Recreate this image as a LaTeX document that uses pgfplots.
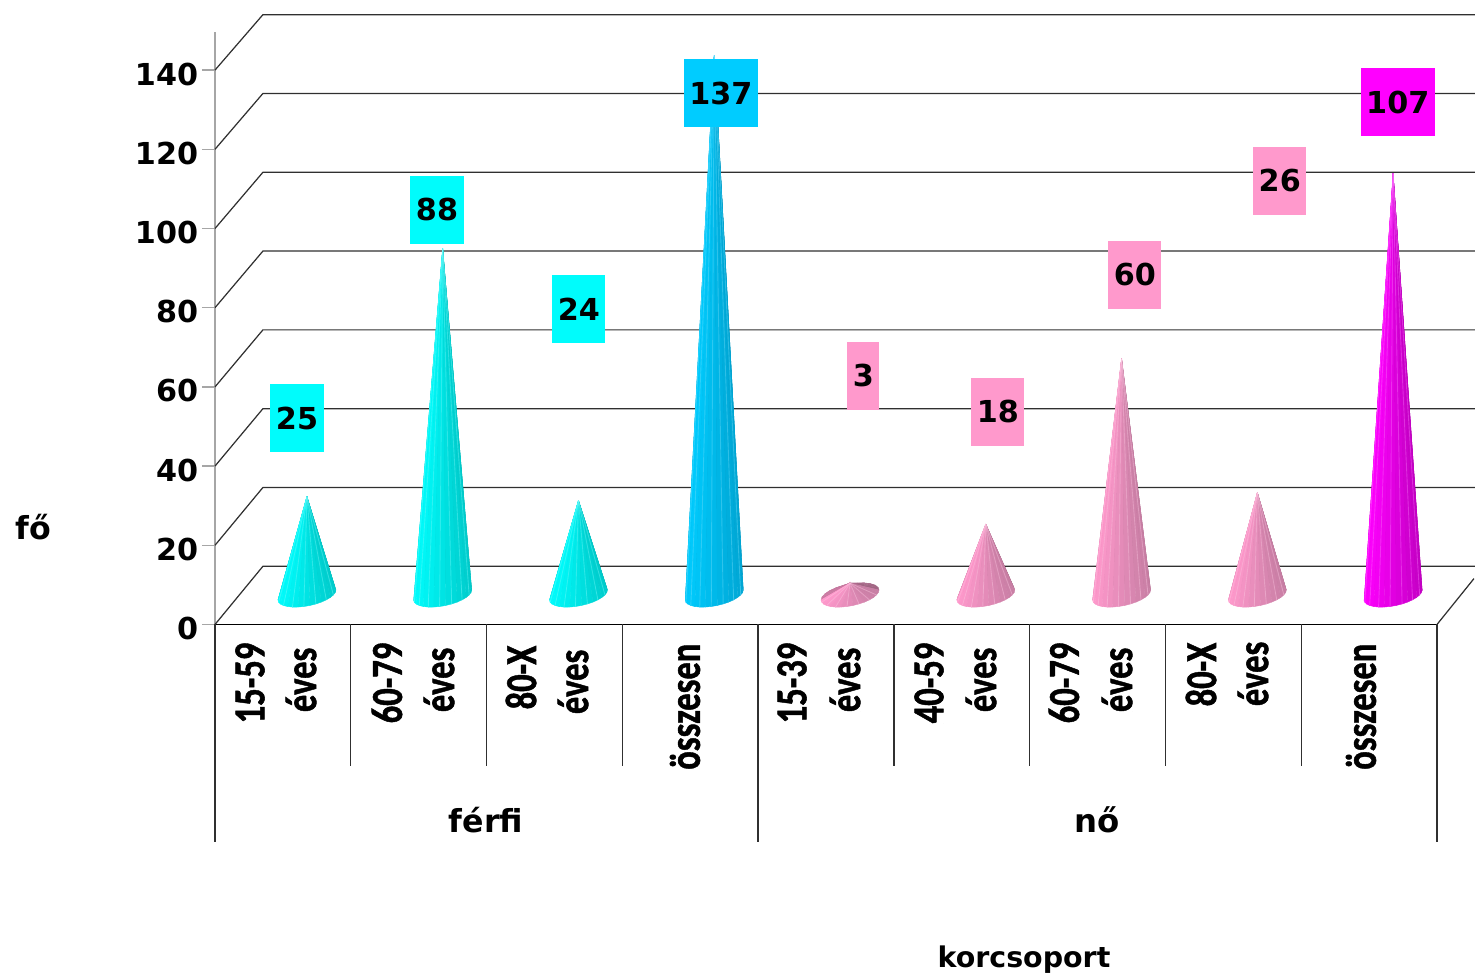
\documentclass[border=0pt]{standalone}
\usepackage{fontspec}
\usepackage{graphicx}
\usepackage{pgfplots}
\pgfplotsset{compat=1.18}
\setmainfont{DejaVu Sans}
\newfontfamily\catfont{Carlito}[BoldFeatures={FakeBold=1.2}]

\definecolor{cyanL}{HTML}{00FCFC}
\definecolor{cyanD}{HTML}{00CCCC}
\definecolor{blueL}{HTML}{00CCFF}
\definecolor{blueD}{HTML}{00A6D4}
\definecolor{pinkL}{HTML}{FF99CC}
\definecolor{pinkD}{HTML}{C87EA4}
\definecolor{magL}{HTML}{FF00FF}
\definecolor{magD}{HTML}{C400C4}
\definecolor{gridc}{HTML}{303030}

\newcommand{\lblfont}{\fontsize{8.6}{10}\selectfont\bfseries}

% one slice of the cone fan: #1 start angle, #2 end angle, #3 fill colour
\newcommand{\slice}[3]{%
  \pgfmathsetmacro\xa{\apx+0.2135*cos(#1)}%
  \pgfmathsetmacro\ya{7.45+1.26*cos(#1)+2.8*sin(#1)}%
  \pgfmathsetmacro\xb{\apx+0.2135*cos(#2)}%
  \pgfmathsetmacro\yb{7.45+1.26*cos(#2)+2.8*sin(#2)}%
  \edef\tmp{\noexpand\addplot[fill=#3,draw=#3,line width=0.1pt]
    coordinates {(\apx,\apy) (\xa,\ya) (\xb,\yb)} -- cycle;}\tmp
}
% cone: #1 category index, #2 value, #3 light colour, #4 dark colour
\newcommand{\cone}[4]{%
  \pgfmathsetmacro\apx{#1+0.677}%
  \pgfmathsetmacro\apy{0.995*#2+7.45}%
  \foreach \ang in {0,15,...,165}{%
    \pgfmathsetmacro\angb{\ang+15}%
    \pgfmathsetmacro\mixp{100*(1-cos(\ang+7))/2}%
    \slice{\ang}{\angb}{#3!\mixp!#4!80!black}%
  }%
  \foreach \ang in {180,192,...,348}{%
    \pgfmathsetmacro\angb{\ang+12}%
    \pgfmathsetmacro\mixp{100*(1-cos(\ang+6))/2}%
    \slice{\ang}{\angb}{#3!\mixp!#4}%
  }%
  \foreach \ang in {192,216,...,348}{%
    \pgfmathsetmacro\xa{\apx+0.2135*cos(\ang)}%
    \pgfmathsetmacro\ya{7.45+1.26*cos(\ang)+2.8*sin(\ang)}%
    \edef\tmp{\noexpand\addplot[#3!55!white,line width=0.25pt,opacity=0.4]
      coordinates {(\apx,\apy) (\xa,\ya)};}\tmp
  }%
}
\newcommand{\vlab}[4]{\node[fill=#1,inner xsep=0.055cm,inner ysep=0pt,minimum height=0.68cm,font=\lblfont,text=black] at (axis cs:#2,#3) {#4};}
% rotated category label: x px, top px, text
\newcommand{\catlab}[3]{\node[rotate=90,anchor=east,inner sep=0pt,font=\catfont\bfseries\fontsize{12.6}{14}\selectfont] at ({(#1-215)/100},{(624.5-#2)/100}) {\scalebox{0.78}[1]{#3}};}
% plain text label: x px, y px, size, text
\newcommand{\txtlab}[4]{\node[inner sep=0pt,font=\bfseries\fontsize{#3}{12}\selectfont] at ({(#1-215)/100},{(624.5-#2)/100}) {#4};}

\begin{document}
\begin{tikzpicture}
\useasboundingbox (-2.15,-3.495) rectangle (12.6,6.245);
\begin{axis}[
    anchor=south west,
    at={(0,0)},
    scale only axis,
    width=12.22cm,
    height=5.92cm,
    xmin=0, xmax=9,
    ymin=0, ymax=149.5,
    clip=false,
    axis x line=bottom,
    axis y line=left,
    axis line style={-},
    x axis line style={black,line width=0.4pt},
    y axis line style={gray!70,line width=0.4pt},
    xtick=\empty,
    ytick={0,20,...,140},
    tick align=outside,
    major tick length=0.13cm,
    y tick style={gray!70,line width=0.4pt},
    ylabel=\empty,
    /pgf/number format/assume math mode=true,
    y tick label style={font=\lblfont,xshift=0.085cm,yshift=-0.04cm},
]
% walls
\pgfplotsinvokeforeach{0,20,40,60,80,100,120,140}{
  \addplot[gridc,line width=0.35pt] coordinates {(0,#1) (0.353,#1*0.995+14.7) (9.28,#1*0.995+14.7)};
}
\addplot[gridc,line width=0.35pt] coordinates {(9,0) (9.2725,11.6)};
% group separators below the axis
\pgfplotsinvokeforeach{1,2,3,5,6,7,8}{
  \addplot[gridc,line width=0.4pt] coordinates {(#1,0) (#1,-35.7)};
}
\pgfplotsinvokeforeach{0,4,9}{
  \addplot[gridc,line width=0.4pt] coordinates {(#1,0) (#1,-54.9)};
}
% cones
\cone{0}{25}{cyanL}{cyanD}
\cone{1}{88}{cyanL}{cyanD}
\cone{2}{24}{cyanL}{cyanD}
\cone{3}{137}{blueL}{blueD}
\cone{4}{3}{pinkL}{pinkD}
\cone{5}{18}{pinkL}{pinkD}
\cone{6}{60}{pinkL}{pinkD}
\cone{7}{26}{pinkL}{pinkD}
\cone{8}{107}{magL}{magD}
% value labels
\vlab{cyanL}{0.604}{52.1}{25}
\vlab{cyanL}{1.635}{104.7}{88}
\vlab{cyanL}{2.680}{79.7}{24}
\vlab{blueL}{3.726}{134.2}{137}
\vlab{pinkL}{4.775}{62.8}{3}
\vlab{pinkL}{5.766}{53.7}{18}
\vlab{pinkL}{6.775}{88.3}{60}
\vlab{pinkL}{7.842}{112.0}{26}
\vlab{magL}{8.711}{131.9}{107}
\end{axis}
\catlab{250}{642}{15-59}
\catlab{301}{647}{éves}
\catlab{387}{642}{60-79}
\catlab{439}{647}{éves}
\catlab{521}{645}{80-X}
\catlab{573}{649}{éves}
\catlab{685}{643}{összesen}
\catlab{792}{642}{15-39}
\catlab{845}{647}{éves}
\catlab{929}{642}{40-59}
\catlab{981}{647}{éves}
\catlab{1064}{642}{60-79}
\catlab{1117}{647}{éves}
\catlab{1201}{642}{80-X}
\catlab{1253}{641}{éves}
\catlab{1361}{643}{összesen}
\txtlab{486}{820}{9}{férfi}
\txtlab{1097}{820}{9.2}{nő}
\txtlab{1024}{960}{8.1}{korcsoport}
\txtlab{33}{527}{9}{fő}
\end{tikzpicture}
\end{document}
